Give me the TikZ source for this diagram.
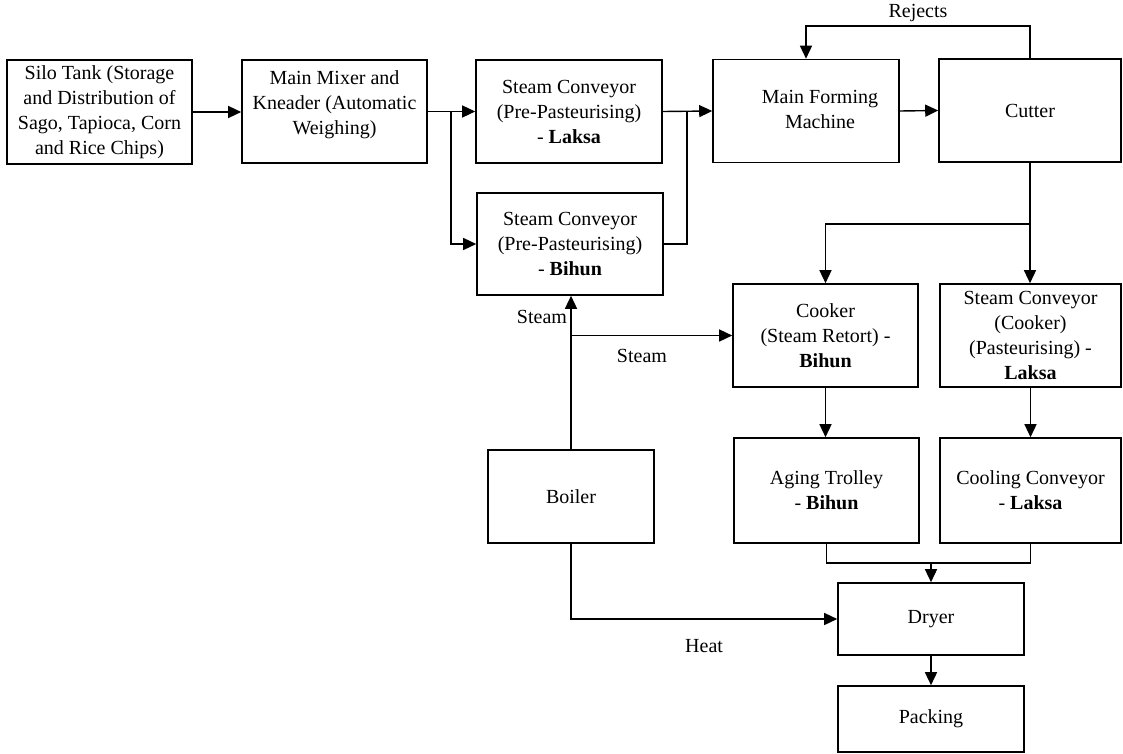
\documentclass[tikz,border=0pt]{standalone}
\usepackage{fontspec}
\setmainfont{Liberation Serif}
\usetikzlibrary{arrows.meta}

\begin{document}
\begin{tikzpicture}[x=1pt, y=-1pt, font=\fontsize{20}{25}\selectfont,
	box/.style={draw, line width=1.6pt, minimum width=186pt, minimum height=103pt, align=center, inner sep=2pt},
	flow/.style={line width=1.4pt},
	arr/.style={flow, -{Triangle[length=13pt,width=12pt]}}]
	\useasboundingbox (0,0) rectangle (1123,754);
	% top row
	\node[box, minimum width=185pt, minimum height=104pt] (silo) at (99.5,112) {Silo Tank (Storage\\and Distribution of\\Sago, Tapioca, Corn\\and Rice Chips)};
	\node[box, minimum width=185pt] (mixer) at (334.5,111.5) {Main Mixer and\\Kneader (Automatic\\Weighing)\\[-8pt]};
	\node[box] (laksa) at (569,111.5) {Steam Conveyor\\(Pre-Pasteurising)\\- \textbf{Laksa}};
	\node[box] (forming) at (806,111) {\hspace*{28pt}\raisebox{10pt}{\begin{tabular}{@{}c@{}}Main Forming\\Machine\end{tabular}}};
	\node[box, minimum width=182pt] (cutter) at (1030,110.5) {Cutter};
	\node[box, minimum height=102pt] (bihun) at (570,244) {Steam Conveyor\\(Pre-Pasteurising)\\- \textbf{Bihun}};
	% cooking lines
	\node[box, minimum width=185pt] (cooker) at (825.5,335.5) {Cooker\\(Steam Retort) -\\\textbf{Bihun}};
	\node[box, minimum width=181pt] (sccook) at (1030.5,335.5) {Steam Conveyor\\(Cooker)\\(Pasteurising) -\\\textbf{Laksa}};
	\node[box, minimum width=185pt, minimum height=105pt] (aging) at (826.5,490.5) {Aging Trolley\\- \textbf{Bihun}};
	\node[box, minimum width=181pt, minimum height=105pt] (cooling) at (1030.5,490.5) {Cooling Conveyor\\- \textbf{Laksa}};
	\node[box, minimum width=166pt, minimum height=93pt] (boiler) at (571,496.5) {Boiler};
	\node[box, minimum height=72pt] (dryer) at (931,619) {Dryer};
	\node[box, minimum height=66pt] (packing) at (931,719) {Packing};
	% junctions
	\coordinate (split) at (451,112);
	\coordinate (merge) at (687,112);
	\path (cutter.south) -- ++(0,61) coordinate (fork);
	\coordinate (join) at (931,563);
	% main flow
	\draw[arr] (silo.east) -- (silo.east -| mixer.west);
	\draw[arr] (mixer.east) -- (laksa.west);
	\draw[arr] (split) |- (bihun.west);
	\draw[arr] (laksa.east) -- (forming.west);
	\draw[flow] (bihun.east) -| (merge);
	\draw[arr] (forming.east) -- (cutter.west);
	\draw[arr] (cutter.north) -- ++(0,-32) -| node[pos=0.25, above] {Rejects} (forming.north);
	\draw[arr] (cutter.south) -- (cutter.south |- sccook.north);
	\draw[arr] (fork) -| (cooker.north);
	\draw[arr] (cooker.south) -- (cooker.south |- aging.north);
	\draw[arr] (sccook.south) -- (cooling.north);
	\draw[flow] (aging.south) |- (join) -| (cooling.south);
	\draw[arr] (join) -- (dryer.north);
	\draw[arr] (dryer.south) -- (packing.north);
	% steam and heat from the boiler
	\draw[arr] (boiler.north) -- (boiler.north |- bihun.south) node[pos=0.86, left] {Steam};
	\draw[arr] (boiler.north |- cooker.west) -- (cooker.west) node[pos=0.44, below=10pt] {Steam};
	\draw[arr] (boiler.south) |- (dryer.west) node[pos=0.75, below=16pt] {Heat};
\end{tikzpicture}
\end{document}
